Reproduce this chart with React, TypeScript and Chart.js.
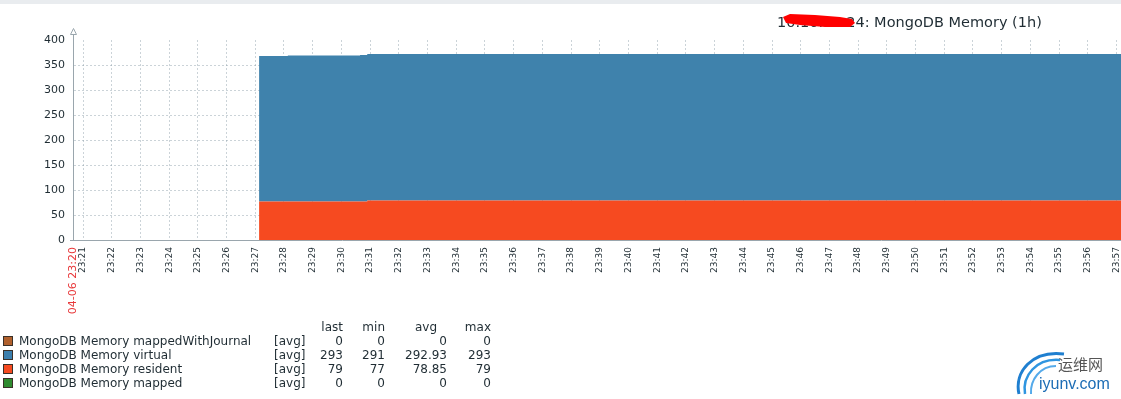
import React, { useEffect, useRef } from 'react';
import { Chart, registerables } from 'chart.js';

Chart.register(...registerables);

// ---- data ----
const startLabel = '04-06 23:20';
const minuteLabels = [
  '23:21', '23:22', '23:23', '23:24', '23:25', '23:26', '23:27', '23:28', '23:29', '23:30',
  '23:31', '23:32', '23:33', '23:34', '23:35', '23:36', '23:37', '23:38', '23:39', '23:40',
  '23:41', '23:42', '23:43', '23:44', '23:45', '23:46', '23:47', '23:48', '23:49', '23:50',
  '23:51', '23:52', '23:53', '23:54', '23:55', '23:56', '23:57',
];
// seconds after 23:20:00
const axisStart = 39;
const axisEnd = 2290;
const sampleTimes = [428, 488, 639, 654, 2400];
const residentValues = [77, 77, 77, 79, 79];
const virtualValues = [291, 292, 293, 293, 293];
const mappedWithJournalValues = [0, 0, 0, 0, 0];
const mappedValues = [0, 0, 0, 0, 0];
const yTicks = [0, 50, 100, 150, 200, 250, 300, 350, 400];

const legendNames = [
  'MongoDB Memory mappedWithJournal',
  'MongoDB Memory virtual',
  'MongoDB Memory resident',
  'MongoDB Memory mapped',
];
const legendColors = ['#b0602c', '#3c7fad', '#f64a20', '#2f8b2f'];
const lastVals = ['0', '293', '79', '0'];
const minVals = ['0', '291', '77', '0'];
const avgVals = ['0', '292.93', '78.85', '0'];
const maxVals = ['0', '293', '79', '0'];

const TEXT = '#1f2c33';
const AXIS = '#9aa6ad';
const GRID = 'rgba(140,158,168,0.45)';
const FONT = "'DejaVu Sans', sans-serif";

const minuteValue = (l: string) => (parseInt(l.slice(3), 10) - 20) * 60;
const toPoints = (vals: number[]) => sampleTimes.map((t, i) => ({ x: t, y: vals[i] }));

const arrowPlugin = {
  id: 'yArrow',
  afterDraw(chart: any) {
    const { ctx, chartArea } = chart;
    const x = Math.round(chart.scales.y.right) + 0.5;
    ctx.save();
    ctx.strokeStyle = AXIS;
    ctx.lineWidth = 1;
    ctx.beginPath();
    ctx.moveTo(x, chartArea.top);
    ctx.lineTo(x, 33);
    ctx.stroke();
    ctx.beginPath();
    ctx.moveTo(x, 28.5);
    ctx.lineTo(x - 3, 34.5);
    ctx.lineTo(x + 3, 34.5);
    ctx.closePath();
    ctx.fillStyle = '#fff';
    ctx.fill();
    ctx.stroke();
    // x-axis slight overhang to the left
    ctx.beginPath();
    ctx.moveTo(70, Math.round(chartArea.bottom) + 0.5);
    ctx.lineTo(x, Math.round(chartArea.bottom) + 0.5);
    ctx.stroke();
    ctx.restore();
  },
};

function ChartCanvas() {
  const ref = useRef<HTMLCanvasElement | null>(null);
  useEffect(() => {
    if (!ref.current) return;
    const chart = new Chart(ref.current, {
      type: 'line',
      data: {
        datasets: [
          {
            label: legendNames[2],
            data: toPoints(residentValues),
            backgroundColor: legendColors[2],
            borderColor: legendColors[2],
            borderWidth: 0,
            pointRadius: 0,
            stepped: true,
            fill: 'origin',
          },
          {
            label: legendNames[1],
            data: toPoints(virtualValues),
            backgroundColor: '#3f82ac',
            borderColor: '#3f82ac',
            borderWidth: 0,
            pointRadius: 0,
            stepped: true,
            fill: '-1',
          },
          {
            label: legendNames[0],
            data: toPoints(mappedWithJournalValues),
            borderColor: legendColors[0],
            borderWidth: 0,
            pointRadius: 0,
            stepped: true,
            fill: false,
          },
          {
            label: legendNames[3],
            data: toPoints(mappedValues),
            borderColor: legendColors[3],
            borderWidth: 0,
            pointRadius: 0,
            stepped: true,
            fill: false,
          },
        ],
      },
      options: {
        animation: false,
        responsive: false,
        devicePixelRatio: 1,
        layout: { padding: { top: 40, left: 0, right: 0, bottom: 0 } },
        plugins: { legend: { display: false }, tooltip: { enabled: false } },
        scales: {
          x: {
            type: 'linear',
            min: axisStart,
            max: axisEnd,
            z: 1,
            afterBuildTicks: (scale: any) => {
              scale.ticks = [{ value: axisStart }, ...minuteLabels.map((l) => ({ value: minuteValue(l) }))];
            },
            afterFit: (scale: any) => {
              scale.height = 159;
            },
            ticks: {
              autoSkip: false,
              maxRotation: 90,
              minRotation: 90,
              padding: 7,
              color: (ctx: any) => (ctx.index === 0 ? '#e8393b' : TEXT),
              font: (ctx: any) => ({ family: FONT, size: ctx.index === 0 ? 11 : 9 }),
              callback: (_v: any, i: number) => (i === 0 ? startLabel : minuteLabels[i - 1]),
            },
            grid: {
              drawTicks: false,
              color: (ctx: any) => (ctx.index === 0 ? 'rgba(0,0,0,0)' : GRID),
              lineWidth: 1,
            },
            border: { display: true, color: AXIS, dash: [2, 2] },
          },
          y: {
            type: 'linear',
            min: 0,
            max: 400,
            stacked: true,
            z: 1,
            afterBuildTicks: (scale: any) => {
              scale.ticks = yTicks.map((v) => ({ value: v }));
            },
            afterFit: (scale: any) => {
              scale.width = 73;
            },
            ticks: {
              padding: 8,
              color: TEXT,
              font: { family: FONT, size: 11 },
              callback: (v: any) => String(v),
            },
            grid: {
              drawTicks: false,
              color: (ctx: any) => (ctx.tick && (ctx.tick.value === 400 || ctx.tick.value === 0) ? 'rgba(0,0,0,0)' : GRID),
              lineWidth: 1,
            },
            border: { display: true, color: AXIS, dash: [2, 2] },
          },
        },
      },
      plugins: [arrowPlugin],
    } as any);
    return () => chart.destroy();
  }, []);
  return <canvas ref={ref} width={1150} height={399} style={{ position: 'absolute', left: 0, top: 0 }} />;
}

const abs = (o: any) => ({ position: 'absolute' as const, whiteSpace: 'nowrap' as const, ...o });

export default function App() {
  const rowTops = [334, 348, 362, 376];
  return (
    <div
      style={{
        position: 'fixed',
        left: 0,
        top: 0,
        width: 1121,
        height: 399,
        overflow: 'hidden',
        background: '#fff',
        fontFamily: FONT,
        color: TEXT,
      }}
    >
      <ChartCanvas />
      <div style={abs({ left: 0, top: 0, width: 1121, height: 4, background: '#e9ecef' })} />
      <div style={abs({ left: 777, top: 14, fontSize: 14.5, lineHeight: '17px' })}>
        10.10.10.24: MongoDB Memory (1h)
      </div>
      <svg width={1121} height={399} style={{ position: 'absolute', left: 0, top: 0, pointerEvents: 'none' }}>
        <path
          d="M783 17 L790 14 L815 15 L840 17 L852 19 L855 23 L850 27 L825 27 L800 25 L786 23 Z"
          fill="#ff0000"
        />
        <path d="M1019 394 C 1014 372, 1032 350, 1064 354" stroke="#1f7fd0" strokeWidth={3} fill="none" />
        <path d="M1025 394 C 1022 376, 1036 358, 1060 360" stroke="#2f95e0" strokeWidth={2.5} fill="none" />
        <path d="M1031 394 C 1030 380, 1040 366, 1056 366" stroke="#55aaea" strokeWidth={2} fill="none" />
      </svg>
      <div style={abs({ left: 1058, top: 355, fontSize: 15, lineHeight: '18px', color: '#555', fontFamily: "'Noto Sans CJK SC', sans-serif" })}>
        运维网
      </div>
      <div style={abs({ left: 1039, top: 374, fontSize: 16, lineHeight: '19px', color: '#1d6db5', fontFamily: "'Liberation Sans', Arial, sans-serif" })}>
        iyunv.com
      </div>

      {/* legend */}
      <div style={abs({ left: 0, top: 320, fontSize: 12, lineHeight: '14px', width: 343, textAlign: 'right' })}>last</div>
      <div style={abs({ left: 0, top: 320, fontSize: 12, lineHeight: '14px', width: 385, textAlign: 'right' })}>min</div>
      <div style={abs({ left: 0, top: 320, fontSize: 12, lineHeight: '14px', width: 437, textAlign: 'right' })}>avg</div>
      <div style={abs({ left: 0, top: 320, fontSize: 12, lineHeight: '14px', width: 491, textAlign: 'right' })}>max</div>
      {legendNames.map((name, i) => (
        <React.Fragment key={name}>
          <div
            style={abs({
              left: 3,
              top: rowTops[i] + 2,
              width: 10,
              height: 10,
              boxSizing: 'border-box',
              border: '1px solid #3a3028',
              background: legendColors[i],
            })}
          />
          <div style={abs({ left: 19, top: rowTops[i], fontSize: 12, lineHeight: '14px' })}>{name}</div>
          <div style={abs({ left: 274, top: rowTops[i], fontSize: 12, lineHeight: '14px' })}>[avg]</div>
          <div style={abs({ left: 0, top: rowTops[i], fontSize: 12, lineHeight: '14px', width: 343, textAlign: 'right' })}>{lastVals[i]}</div>
          <div style={abs({ left: 0, top: rowTops[i], fontSize: 12, lineHeight: '14px', width: 385, textAlign: 'right' })}>{minVals[i]}</div>
          <div style={abs({ left: 0, top: rowTops[i], fontSize: 12, lineHeight: '14px', width: 447, textAlign: 'right' })}>{avgVals[i]}</div>
          <div style={abs({ left: 0, top: rowTops[i], fontSize: 12, lineHeight: '14px', width: 491, textAlign: 'right' })}>{maxVals[i]}</div>
        </React.Fragment>
      ))}
    </div>
  );
}
